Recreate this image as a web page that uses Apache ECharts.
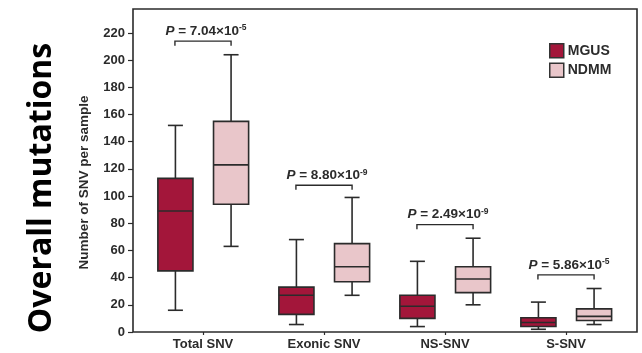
<!DOCTYPE html>
<html>
<head>
<meta charset="utf-8">
<script src="https://cdn.jsdelivr.net/npm/echarts@6/dist/echarts.min.js"></script>
<style>html,body{margin:0;padding:0;background:#fff;}#c{width:642px;height:353px;}</style>
</head>
<body>
<div id="c"></div>
<script>
const categories = ['Total SNV', 'Exonic SNV', 'NS-SNV', 'S-SNV'];
// each row: [min, Q1, median, Q3, max]
const mgusStats = [[16, 45, 89, 113, 152], [5.5, 13, 27, 33, 68], [4, 10, 19, 27, 52], [2, 4, 7, 10.5, 22]];
const ndmmStats = [[63, 94, 123, 155, 204], [27, 37, 48, 65, 99], [20, 29, 39, 48, 69], [5.5, 8.5, 11.5, 17, 32]];
const pMantissa = ['7.04', '8.80', '2.49', '5.86'];
const pExponent = ['-5', '-9', '-9', '-5'];
const bracketLevel = [214, 108, 79, 42];
const yTicks = [0, 220, 20];

const MGUS_COLOR = '#a3163a';
const NDMM_COLOR = '#e9c6ca';
const INK = '#2b2b2b';

function boxRenderer(offsetFrac, fill) {
  return function (params, api) {
    const cat = api.value(0);
    const band = api.size([1, 0])[0];
    const cx = api.coord([cat, 0])[0] + offsetFrac * band;
    const yMin = api.coord([cat, api.value(1)])[1];
    const yQ1 = api.coord([cat, api.value(2)])[1];
    const yMed = api.coord([cat, api.value(3)])[1];
    const yQ3 = api.coord([cat, api.value(4)])[1];
    const yMax = api.coord([cat, api.value(5)])[1];
    const hb = band * 0.145;
    const hc = band * 0.062;
    const ls = { stroke: INK, lineWidth: 1.6, fill: null };
    return {
      type: 'group',
      children: [
        { type: 'line', shape: { x1: cx, y1: yMax, x2: cx, y2: yQ3 }, style: ls },
        { type: 'line', shape: { x1: cx, y1: yQ1, x2: cx, y2: yMin }, style: ls },
        { type: 'line', shape: { x1: cx - hc, y1: yMax, x2: cx + hc, y2: yMax }, style: ls },
        { type: 'line', shape: { x1: cx - hc, y1: yMin, x2: cx + hc, y2: yMin }, style: ls },
        { type: 'rect', shape: { x: cx - hb, y: yQ3, width: 2 * hb, height: yQ1 - yQ3 },
          style: { fill: fill, stroke: INK, lineWidth: 1.6 } },
        { type: 'line', shape: { x1: cx - hb, y1: yMed, x2: cx + hb, y2: yMed }, style: ls }
      ]
    };
  };
}

function bracketRenderer(params, api) {
  const cat = api.value(0);
  const band = api.size([1, 0])[0];
  const p = api.coord([cat, api.value(1)]);
  const half = band * 0.232;
  const idx = params.dataIndex;
  return {
    type: 'group',
    children: [
      { type: 'polyline',
        shape: { points: [[p[0] - half, p[1] + 4.5], [p[0] - half, p[1]], [p[0] + half, p[1]], [p[0] + half, p[1] + 4.5]] },
        style: { stroke: INK, lineWidth: 1.4, fill: null } },
      { type: 'text', x: p[0] + 3, y: p[1] - 2.5,
        style: {
          text: '{i|P} = ' + pMantissa[idx] + '×10{s|' + pExponent[idx] + '}',
          align: 'center', verticalAlign: 'bottom',
          fill: INK,
          font: 'bold 13.5px "Liberation Sans", Arial, sans-serif',
          rich: {
            i: { fontStyle: 'italic', fontWeight: 'bold', fontSize: 13.5, fontFamily: 'Liberation Sans', lineHeight: 15, fill: INK },
            s: { fontWeight: 'bold', fontSize: 8.5, fontFamily: 'Liberation Sans', lineHeight: 9, verticalAlign: 'top', fill: INK }
          }
        } }
    ]
  };
}

const chart = echarts.init(document.getElementById('c'), null, { renderer: 'canvas' });
chart.setOption({
  animation: false,
  backgroundColor: '#fff',
  grid: [
    { left: 133, right: 5, top: 9, bottom: 21, show: true, borderColor: INK, borderWidth: 1.6, backgroundColor: 'transparent' },
    { left: 142.5, right: 15.5, top: 33, bottom: 21 }
  ],
  xAxis: [
    { gridIndex: 0, type: 'value', show: false, min: 0, max: 1 },
    { gridIndex: 1, type: 'category', data: categories, boundaryGap: true,
      axisLine: { show: false },
      axisTick: { show: true, alignWithLabel: true, length: 3, lineStyle: { color: INK, width: 1.2 } },
      axisLabel: { color: INK, fontWeight: 'bold', fontSize: 13, fontFamily: 'Liberation Sans', margin: 6 } }
  ],
  yAxis: [
    { gridIndex: 0, type: 'value', show: false, min: 0, max: 1 },
    { gridIndex: 1, type: 'value', min: yTicks[0], max: yTicks[1], interval: yTicks[2], offset: 9.5,
      axisLine: { show: false },
      axisTick: { show: true, length: 5, lineStyle: { color: INK, width: 1.2 } },
      splitLine: { show: false },
      axisLabel: { color: INK, fontWeight: 'bold', fontSize: 13, fontFamily: 'Liberation Sans', margin: 8 },
      name: 'Number of SNV per sample', nameLocation: 'middle', nameGap: 42,
      nameTextStyle: { color: INK, fontWeight: 'bold', fontSize: 13.5, fontFamily: 'Liberation Sans' } }
  ],
  legend: {
    orient: 'vertical', left: 544, top: 38, itemWidth: 14, itemHeight: 14, itemGap: 4,
    icon: 'rect',
    textStyle: { color: INK, fontWeight: 'bold', fontSize: 14, fontFamily: 'Liberation Sans', padding: [0, 0, 0, -1] },
    data: [
      { name: 'MGUS', itemStyle: { color: MGUS_COLOR, borderColor: '#333', borderWidth: 1.5 } },
      { name: 'NDMM', itemStyle: { color: NDMM_COLOR, borderColor: '#333', borderWidth: 1.5 } }
    ]
  },
  graphic: [
    { type: 'text', x: 42, y: 188, rotation: Math.PI / 2,
      style: { text: 'Overall mutations', font: 'bold 32px "Open Sans", sans-serif', fill: '#000', align: 'center', verticalAlign: 'middle' } }
  ],
  series: [
    { name: 'MGUS', type: 'custom', xAxisIndex: 1, yAxisIndex: 1,
      itemStyle: { color: MGUS_COLOR },
      renderItem: boxRenderer(-0.228, MGUS_COLOR),
      encode: { x: 0, y: [1, 2, 3, 4, 5] },
      data: mgusStats.map((d, i) => [i].concat(d)) },
    { name: 'NDMM', type: 'custom', xAxisIndex: 1, yAxisIndex: 1,
      itemStyle: { color: NDMM_COLOR },
      renderItem: boxRenderer(0.232, NDMM_COLOR),
      encode: { x: 0, y: [1, 2, 3, 4, 5] },
      data: ndmmStats.map((d, i) => [i].concat(d)) },
    { name: 'P', type: 'custom', xAxisIndex: 1, yAxisIndex: 1, silent: true,
      renderItem: bracketRenderer,
      encode: { x: 0, y: 1 },
      data: bracketLevel.map((v, i) => [i, v]) }
  ]
});
</script>
</body>
</html>
